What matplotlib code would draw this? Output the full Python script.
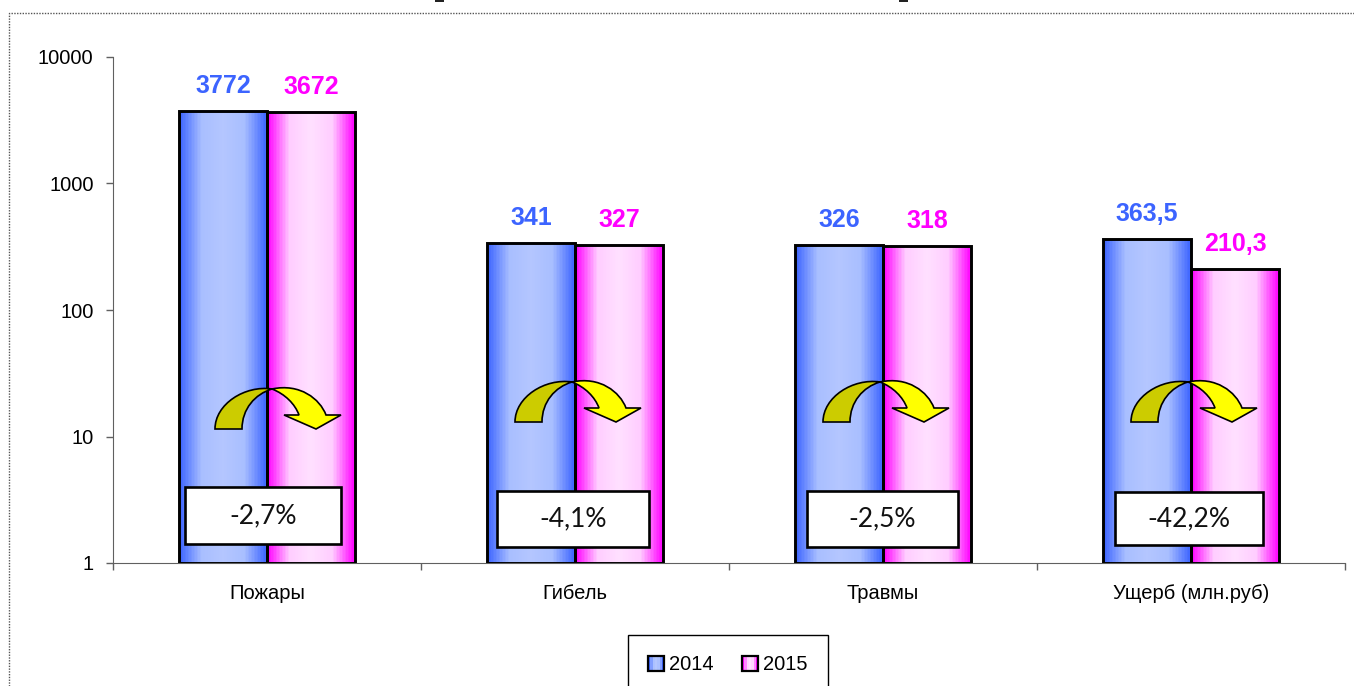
import numpy as np
import matplotlib
matplotlib.use("Agg")
import matplotlib.pyplot as plt
from matplotlib.colors import LinearSegmentedColormap
from matplotlib.legend_handler import HandlerBase
from matplotlib.lines import Line2D
from matplotlib.patches import PathPatch, Rectangle
from matplotlib.path import Path
from matplotlib.transforms import Affine2D

categories = ["Пожары", "Гибель", "Травмы", "Ущерб (млн.руб)"]
values_2014 = [3772, 341, 326, 363.5]
values_2015 = [3672, 327, 318, 210.3]
labels_2014 = ["3772", "341", "326", "363,5"]
labels_2015 = ["3672", "327", "318", "210,3"]
changes = ["-2,7%", "-4,1%", "-2,5%", "-42,2%"]
y_ticks = [1, 10, 100, 1000, 10000]

# pixel boxes of the change labels: left, top, right, bottom
change_boxes = [(185, 487, 341, 544), (497, 491, 649, 547), (807, 491, 958, 547), (1115, 492, 1263, 545)]
# anchor of each curved arrow: centre x, base y
arrow_anchors = [(275, 429), (575, 422), (883, 422), (1191, 422)]

W, H = 1354, 686
BLUE = "#3C64FF"
MAGENTA = "#FF00FF"

plt.rcParams["font.family"] = ["Liberation Sans", "DejaVu Sans"]

blue_map = LinearSegmentedColormap.from_list("b", [BLUE, "#A8BEFF", "#B4C6FF", "#A8BEFF", BLUE])
pink_map = LinearSegmentedColormap.from_list("p", [MAGENTA, "#FFCCFF", "#FFE0FF", "#FFCCFF", MAGENTA])

fig = plt.figure(figsize=(W / 100, H / 100), dpi=100)
ax = fig.add_axes([113 / W, 1 - 563 / H, (1345 - 113) / W, (563 - 57) / H])

# transform for decorations given in image pixels, y going down
px = Affine2D().scale(1 / W, -1 / H).translate(0, 1) + fig.transFigure

bar_w = 88 / 308
x = np.arange(len(categories))


def draw_bars(xs, vals, cmap):
    # gradient first, then the bar outline on top
    for xc, v in zip(xs, vals):
        edges = np.linspace(xc - bar_w / 2, xc + bar_w / 2, 61)
        shade = np.linspace(0, 1, 60).reshape(1, -1)
        ax.pcolormesh(edges, [1, v], shade, cmap=cmap, shading="flat", zorder=2)
    ax.bar(xs, np.array(vals) - 1, bar_w, bottom=1, fill=False, edgecolor="black", linewidth=2.1, zorder=3)


draw_bars(x - bar_w / 2, values_2014, blue_map)
draw_bars(x + bar_w / 2, values_2015, pink_map)

for xc, v, t in zip(x - bar_w / 2, values_2014, labels_2014):
    ax.annotate(t, (xc, v), xytext=(0, 18), textcoords="offset points", ha="center", va="center",
                color=BLUE, fontsize=18, fontweight="bold")
for xc, v, t in zip(x + bar_w / 2, values_2015, labels_2015):
    ax.annotate(t, (xc, v), xytext=(0, 18), textcoords="offset points", ha="center", va="center",
                color=MAGENTA, fontsize=18, fontweight="bold")

ax.set_yscale("log")
ax.set_ylim(1, 10000)
ax.set_xlim(-0.5, len(categories) - 0.5)
ax.set_yticks(y_ticks)
ax.set_yticklabels([str(t) for t in y_ticks], fontsize=14.5)
ax.minorticks_off()
ax.set_xticks(np.arange(len(categories) + 1) - 0.5)
ax.set_xticklabels([])
ax.set_xticks(x, categories, minor=True, fontsize=14.5)
ax.tick_params(axis="x", which="minor", length=0, pad=15)
ax.tick_params(axis="both", which="major", length=5, width=1, color="#606060")
ax.tick_params(axis="y", pad=9)
for side in ("top", "right"):
    ax.spines[side].set_visible(False)
for side in ("left", "bottom"):
    ax.spines[side].set_color("#606060")

# curved arrows across the two bars
for cx, by in arrow_anchors:
    left = Path([(cx - 60, by), (cx - 60, by - 25), (cx - 30, by - 44), (cx - 3, by - 40),
                 (cx - 20, by - 35), (cx - 33, by - 20), (cx - 33, by), (cx - 60, by)],
                [Path.MOVETO, Path.CURVE4, Path.CURVE4, Path.CURVE4,
                 Path.CURVE4, Path.CURVE4, Path.CURVE4, Path.CLOSEPOLY])
    right = Path([(cx - 3, by - 40), (cx + 25, by - 46), (cx + 45, by - 30), (cx + 51, by - 14),
                  (cx + 66, by - 14), (cx + 41, by), (cx + 9, by - 14), (cx + 24, by - 14),
                  (cx + 20, by - 25), (cx + 10, by - 35), (cx - 3, by - 40), (cx - 3, by - 40)],
                 [Path.MOVETO, Path.CURVE4, Path.CURVE4, Path.CURVE4,
                  Path.LINETO, Path.LINETO, Path.LINETO, Path.LINETO,
                  Path.CURVE4, Path.CURVE4, Path.CURVE4, Path.CLOSEPOLY])
    fig.add_artist(PathPatch(left, facecolor="#CCCC00", edgecolor="black", linewidth=1.2, transform=px))
    fig.add_artist(PathPatch(right, facecolor="#FFFF00", edgecolor="black", linewidth=1.2, transform=px))

# boxes with the change in percent
for (x0, y0, x1, y1), t in zip(change_boxes, changes):
    fig.add_artist(Rectangle((x0, y0), x1 - x0, y1 - y0, facecolor="white", edgecolor="black",
                             linewidth=1.9, transform=px))
    fig.text((x0 + x1) / 2, (y0 + y1) / 2, t, transform=px, ha="center", va="center",
             fontsize=19, family=["Lato", "DejaVu Sans"], color="#111111")


class Swatch:
    def __init__(self, cmap):
        self.cmap = cmap


class GradientSwatch(HandlerBase):
    def create_artists(self, legend, orig, xd, yd, width, height, fontsize, trans):
        out = []
        n = 7
        for i in range(n):
            out.append(Rectangle((-xd + i * width / n, -yd), width / n, height, facecolor=orig.cmap(i / (n - 1)),
                                 edgecolor="none", transform=trans))
        out.append(Rectangle((-xd, -yd), width, height, fill=False, edgecolor="black", linewidth=1.6, transform=trans))
        return out


leg = fig.legend([Swatch(blue_map), Swatch(pink_map)], ["2014", "2015"], handler_map={Swatch: GradientSwatch()},
                 loc="center", bbox_to_anchor=(728 / W, 1 - 665 / H), ncol=2, fontsize=14.5, frameon=True,
                 fancybox=False, edgecolor="black", framealpha=1, handlelength=0.8, handleheight=0.8,
                 handletextpad=0.25, columnspacing=1.4, borderpad=1.0, borderaxespad=0)
leg.get_frame().set_linewidth(1.0)

# dotted frame of the slide, only left and top are inside the crop
fig.add_artist(Line2D([8.5, 8.5, W], [H, 12.5, 12.5], color="#555555", linewidth=1, linestyle=(0, (1, 1)), transform=px))

# bits of the cut off heading at the very top of the picture
for x0 in (435, 899):
    fig.add_artist(Rectangle((x0, 0), 9, 2, facecolor="#222222", edgecolor="none", transform=px))

fig.savefig("out.png", dpi=100)
